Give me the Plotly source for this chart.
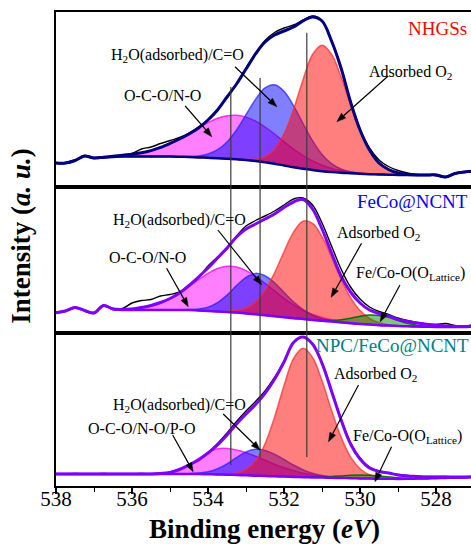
import math
import plotly.graph_objects as go
from plotly.subplots import make_subplots

# Binding energy grid (eV)
energy = [538.0, 537.75, 537.5, 537.25, 537.0, 536.75, 536.5, 536.25, 536.0, 535.75,
          535.5, 535.25, 535.0, 534.75, 534.5, 534.25, 534.0, 533.75, 533.5, 533.25,
          533.0, 532.75, 532.5, 532.25, 532.0, 531.75, 531.5, 531.25, 531.0, 530.75,
          530.5, 530.25, 530.0, 529.75, 529.5, 529.25, 529.0, 528.75, 528.5, 528.25,
          528.0, 527.75, 527.5, 527.25, 527.0]

# ---------------- NHGSs (top) ----------------
top_baseline = [23, 23, 25.5, 30, 28, 28.5, 29, 29.5, 29.5, 29.5,
                29.5, 29.5, 29.5, 29.3, 29, 28.6, 28.2, 27.8, 27.3, 26.7,
                26, 25, 23.8, 22.3, 20.5, 18.7, 17.2, 16, 14.8, 13.9,
                13.2, 12.7, 12.2, 11.8, 11.5, 11.3, 11.1, 11, 11, 11,
                11, 9, 12.5, 14, 15]
top_envelope = [23, 23, 25.5, 30, 28, 28.8, 29.7, 30.8, 31.7, 33.2,
                35.4, 38.6, 42.6, 47, 52, 58, 66, 76, 89, 102,
                117, 132, 144, 151, 155, 159, 165, 169, 165, 145,
                118, 84, 56, 36, 23, 16.5, 13, 11.5, 11, 11,
                11, 9, 12.5, 14, 15]
top_raw = [23, 23, 25.5, 30, 28, 28.5, 29.5, 30, 32.5, 37,
           39, 42.5, 45.5, 48.5, 53, 59, 66.5, 76.5, 89, 102,
           117.5, 133, 145.5, 153.5, 158, 161, 166, 170, 165.5, 146,
           119, 85, 57, 38, 26, 19.5, 15.5, 13, 11.5, 11,
           10.5, 9, 12.5, 14, 15]
top_magenta = [0] * 5 + [0.3, 0.7, 1.3, 2.2, 3.7, 5.9, 9.1, 13.1, 18.1, 23.7,
                         29.7, 35.2, 39.9, 42.9, 44, 42.9, 39.9, 35.2, 29.7, 23.7,
                         18.1, 13.1, 9.1, 5.9, 3.7, 2.2, 1.3, 0.7, 0.3] + [0] * 11
top_blue = [0] * 14 + [0.5, 1.5, 3.8, 8.5, 16.7, 29.3, 45.3, 61.6, 74.3, 79,
                       74.3, 61.6, 45.3, 29.3, 16.7, 8.5, 3.8, 1.5, 0.5] + [0] * 12
top_red = [0] * 20 + [0.5, 1.8, 5.5, 14.4, 31.4, 57.7, 89.1, 115.5, 126, 117.8,
                      96.1, 68.5, 42.7, 23.3, 11.1, 4.7, 1.6, 0.5] + [0] * 7

# ---------------- FeCo@NCNT (middle) ----------------
mid_baseline = [20.3, 22, 25.5, 22.5, 20, 27.5, 24, 23, 23, 23,
                23, 23, 23, 23, 23, 22.5, 22, 21.5, 21, 20.5,
                19.5, 18.7, 17.8, 16.8, 15.8, 14.8, 14, 13, 12.2, 11.4,
                10.6, 9.8, 9, 8.4, 7.8, 7.4, 7, 6.7, 6.4, 6.2,
                6, 6, 6, 6, 7]
mid_envelope = [20.3, 22, 25.5, 22.5, 20, 27.5, 24, 23.5, 24, 25.5,
                27.5, 30.5, 34.5, 40, 47.5, 56, 65, 75, 85, 96,
                104, 109, 114, 119, 125.5, 131, 133.5, 124, 104, 80,
                57, 41, 30, 23, 19.5, 17, 13.5, 11.5, 10, 8.8,
                7.8, 7, 6.5, 6.5, 7]
mid_raw = [20.3, 22, 25.5, 22.5, 20, 27.5, 24, 24.5, 30, 32.5,
           33.5, 37, 38.5, 41, 47.5, 55, 67, 76, 84, 97,
           107, 112.5, 117, 122, 128, 134, 135, 128, 110, 87,
           64, 46, 34, 26, 21.5, 18.5, 15, 12.5, 10.5, 9,
           8.5, 9.5, 7.5, 6.5, 9]
mid_magenta = [0] * 7 + [0.5, 1.1, 2.1, 4.0, 6.9, 11.1, 16.8, 23.5, 30.8, 37.7,
                         43.0, 45.7, 45.5, 42.8, 38.0, 31.9, 25.3, 18.9, 13.4, 8.9,
                         5.6, 3.4, 1.9, 1.0, 0.5] + [0] * 13
mid_blue = [0] * 14 + [0.5, 1.5, 3.9, 8.9, 16.9, 26.9, 36.2, 40.9, 39.4, 33.3,
                       24.9, 16.3, 9.4, 4.8, 2.2, 0.9, 0.3] + [0] * 14
mid_red = [0] * 18 + [0.6, 2.0, 5.2, 12.2, 24.7, 43.2, 65.5, 86.0, 97.9, 96.7,
                      84.1, 64.4, 43.3, 25.6, 13.4, 6.1, 2.5, 0.9, 0.3] + [0] * 8
mid_green = [0] * 27 + [0.1, 0.4, 1.1, 2.6, 5.0, 7.7, 9.6, 9.8, 8.2, 5.5,
                        3.0, 1.4, 0.5, 0.15] + [0] * 4

# ---------------- NPC/FeCo@NCNT (bottom) ----------------
bot_baseline = [12] * 16 + [11.8, 11.6, 11.3, 11, 10.7, 10.3, 10, 9.7, 9.4, 9.1,
                            8.8, 8.6, 8.4, 8.2, 8, 7.8, 7.6, 7.4, 7.3, 7.2,
                            7.1, 7.2, 7.4, 7.6, 7.8, 8, 8.3, 8.6, 9]
bot_envelope = [12, 12, 12, 12, 12, 12, 12, 12, 12, 12,
                12, 12.5, 13.5, 16.5, 21, 26, 33, 41, 51, 62,
                72, 81.5, 92.7, 106.8, 124, 143.5, 149, 142, 122.7, 94.8,
                66.3, 42, 27, 18, 14.5, 13, 11, 10, 9.5, 9,
                9, 9, 9, 9, 9.3]
bot_raw = [12, 12, 12.5, 12, 12, 12.5, 12, 12, 12, 12.5,
           12, 12.5, 13.5, 16.5, 21, 26, 33.5, 42.5, 53, 64.5,
           75, 84.5, 95, 108.5, 125, 143.5, 149, 142.5, 123.5, 96,
           67.5, 43.5, 28, 19, 15, 13, 11.5, 10.5, 10, 9.5,
           9.5, 9.5, 9, 9, 9.3]
bot_magenta = [0] * 10 + [0.3, 0.9, 2.2, 5.0, 9.5, 15.5, 21.6, 25.7, 26.3, 25.1,
                          22.6, 19.4, 15.7, 12.1, 8.8, 6.1, 4.0, 2.5, 1.5, 0.8,
                          0.4] + [0] * 14
bot_blue = [0] * 14 + [0.3, 1.0, 2.5, 5.7, 10.9, 17.4, 23.4, 26.4, 25.6, 22.1,
                       17.1, 11.9, 7.4, 4.1, 2.0, 0.9, 0.4] + [0] * 14
bot_red = [0] * 18 + [0.5, 1.8, 5.7, 14.7, 32.1, 59.1, 91.2, 118.3, 129, 120.1,
                      96.8, 67.6, 40.9, 21.4, 9.7, 3.8, 1.3, 0.4] + [0] * 9
bot_green = [0] * 27 + [0.3, 0.7, 1.3, 2.1, 2.9, 3.4, 3.4, 2.8, 1.9, 1.1,
                        0.6, 0.2] + [0] * 6

# Peak-position guide lines (eV)
guide_lines = [533.4, 532.63, 531.4]

x_ticks = [538, 536, 534, 532, 530, 528]

# ---------------- layout constants ----------------
FONT = "Liberation Serif"
W, H = 471, 544
M_L, M_R, M_T, M_B = 56, 0, 12, 58
X_RANGE = [538, 527.08]
ROW_PX = [175, 146, 153]
Y_RANGES = [[-1, 174], [0, 146], [0, 153]]

comp_style = {
    "magenta": ("rgba(255,0,255,0.5)", "rgba(240,0,240,0.75)"),
    "blue": ("rgba(0,0,255,0.5)", "rgba(30,30,255,0.7)"),
    "red": ("rgba(255,0,0,0.5)", "rgba(255,40,40,0.7)"),
    "green": ("rgba(0,140,0,0.5)", "rgba(0,100,0,0.9)"),
}

panels = [
    dict(row=1, base=top_baseline, env=top_envelope, raw=top_raw, color="#000080",
         comps=[("magenta", top_magenta), ("blue", top_blue), ("red", top_red)]),
    dict(row=2, base=mid_baseline, env=mid_envelope, raw=mid_raw, color="#7F00FF",
         comps=[("magenta", mid_magenta), ("blue", mid_blue), ("red", mid_red), ("green", mid_green)]),
    dict(row=3, base=bot_baseline, env=bot_envelope, raw=bot_raw, color="#7F00FF",
         comps=[("magenta", bot_magenta), ("blue", bot_blue), ("red", bot_red), ("green", bot_green)]),
]

fig = make_subplots(rows=3, cols=1, shared_xaxes=True, vertical_spacing=0,
                    row_heights=ROW_PX)

for p in panels:
    r = p["row"]
    for name, vals in p["comps"]:
        fillc, linec = comp_style[name]
        top = [b + v for b, v in zip(p["base"], vals)]
        fig.add_trace(go.Scatter(x=energy, y=p["base"], mode="lines",
                                 line=dict(width=0, shape="spline"), hoverinfo="skip",
                                 showlegend=False), row=r, col=1)
        fig.add_trace(go.Scatter(x=energy, y=top, mode="lines", fill="tonexty",
                                 fillcolor=fillc, line=dict(color=linec, width=1.5, shape="spline"),
                                 showlegend=False), row=r, col=1)
    fig.add_trace(go.Scatter(x=energy, y=p["raw"], mode="lines",
                             line=dict(color="black", width=1.4, shape="spline"),
                             showlegend=False), row=r, col=1)
    fig.add_trace(go.Scatter(x=energy, y=p["env"], mode="lines",
                             line=dict(color=p["color"], width=3, shape="spline"),
                             showlegend=False), row=r, col=1)
    fig.add_trace(go.Scatter(x=energy, y=p["base"], mode="lines",
                             line=dict(color=p["color"], width=2.5, shape="spline"),
                             showlegend=False), row=r, col=1)

for i, yr in enumerate(Y_RANGES, start=1):
    fig.update_yaxes(range=yr, showline=True, linecolor="black", linewidth=1.5, mirror=False,
                     showgrid=False, zeroline=False, showticklabels=False, ticks="",
                     row=i, col=1)
    fig.update_xaxes(range=X_RANGE, showline=True, linecolor="black", linewidth=1.5,
                     mirror=True, showgrid=False, zeroline=False, row=i, col=1)
for i in (1, 2):
    fig.update_xaxes(showticklabels=False, ticks="", row=i, col=1)
fig.update_xaxes(row=3, col=1, showticklabels=True, ticks="outside", ticklen=6, tickwidth=1.5,
                 tickcolor="black", tickmode="array", tickvals=x_ticks,
                 ticktext=[str(t) for t in x_ticks], ticklabelstandoff=-13,
                 tickfont=dict(family=FONT, size=21, color="black"),
                 minor=dict(dtick=1, tick0=528, ticks="outside", ticklen=4, tickwidth=1.2,
                            tickcolor="black", showgrid=False))

# guide lines spanning the panels
line_top = [0.842, 0.861, 0.956]
line_bottom = [0.044, 0.061, 0.061]
shapes = []
for e, y1, y0 in zip(guide_lines, line_top, line_bottom):
    shapes.append(dict(type="line", xref="x", yref="paper", x0=e, x1=e, y0=y0, y1=y1,
                       line=dict(color="#3a3a3a", width=1.2), layer="above"))

# pixel scales used to draw arrow heads with a fixed pixel size
PX_PER_EV = (W - M_L - M_R) / (X_RANGE[0] - X_RANGE[1])
PX_PER_UNIT = [h / (yr[1] - yr[0]) for h, yr in zip(ROW_PX, Y_RANGES)]
HEAD_LEN, HEAD_HALF = 9.0, 3.2
AXES = {1: ("x", "y"), 2: ("x2", "y2"), 3: ("x3", "y3")}


def arrow(tail, head, row):
    xr, yr = AXES[row]
    ppu = PX_PER_UNIT[row - 1]
    # pixel-space vector (x grows as energy decreases; y grows upward)
    dx = (tail[0] - head[0]) * PX_PER_EV
    dy = (head[1] - tail[1]) * ppu
    L = math.hypot(dx, dy)
    ux, uy = dx / L, dy / L
    nx, ny = -uy, ux

    def to_data(ox, oy):
        return head[0] - ox / PX_PER_EV, head[1] + oy / ppu

    bx, by = -HEAD_LEN * ux, -HEAD_LEN * uy
    base = to_data(bx, by)
    c1 = to_data(bx + HEAD_HALF * nx, by + HEAD_HALF * ny)
    c2 = to_data(bx - HEAD_HALF * nx, by - HEAD_HALF * ny)
    shapes.append(dict(type="line", xref=xr, yref=yr, x0=tail[0], y0=tail[1],
                       x1=base[0], y1=base[1], line=dict(color="black", width=1.2)))
    shapes.append(dict(type="path", xref=xr, yref=yr,
                       path=f"M {head[0]},{head[1]} L {c1[0]},{c1[1]} L {c2[0]},{c2[1]} Z",
                       fillcolor="black", line=dict(color="black", width=0.5)))


annotations = []


def label(x, y, text, row, size=16, color="black"):
    xr, yr = AXES[row]
    annotations.append(dict(x=x, y=y, xref=xr, yref=yr, text=text, showarrow=False,
                            font=dict(family=FONT, size=size, color=color),
                            xanchor="center", yanchor="middle"))


H2O = "H<sub>2</sub>O(adsorbed)/C=O"
ADS = "Adsorbed O<sub>2</sub>"
LAT = "Fe/Co-O(O<sub>Lattice</sub>)"

# top panel
label(527.97, 158, "NHGSs", 1, size=19, color="#FF0000")
label(528.66, 114, ADS, 1)
arrow((529.26, 110), (530.61, 64.3), 1)
label(534.79, 131, H2O, 1)
arrow((533.29, 119.3), (532.19, 79.3), 1)
label(535.2, 91, "O-C-O/N-O", 1)
arrow((534.6, 80), (533.9, 49.3), 1)

# middle panel
label(528.63, 132, "FeCo@NCNT", 2, size=19, color="#0000FF")
label(529.51, 100, ADS, 2)
arrow((529.96, 89.7), (530.76, 35.7), 2)
label(528.66, 60, LAT, 2)
arrow((528.95, 48), (529.47, 11.3), 2)
label(534.76, 113, H2O, 2)
arrow((533.74, 103), (532.59, 48.3), 2)
label(535.58, 76, "O-C-O/N-O", 2)
arrow((535.09, 64.7), (534.52, 26.3), 2)

# bottom panel
label(529.14, 141, "NPC/FeCo@NCNT", 3, size=19, color="#008080")
label(529.58, 112, ADS, 3)
arrow((530.04, 101), (530.83, 44.3), 3)
label(528.75, 50, LAT, 3)
arrow((529.17, 39.3), (529.61, 4.3), 3)
label(534.76, 81, H2O, 3)
arrow((533.6, 72), (532.63, 36), 3)
label(535.75, 58, "O-C-O/N-O/P-O", 3)
arrow((534.93, 51), (534.39, 14.3), 3)

# axis titles
annotations.append(dict(x=-0.083, y=0.527, xref="paper", yref="paper",
                        text="<b>Intensity (<i>a. u.</i>)</b>", textangle=-90, showarrow=False,
                        font=dict(family=FONT, size=27, color="black"),
                        xanchor="center", yanchor="middle"))
annotations.append(dict(x=0.5036, y=-0.0907, xref="paper", yref="paper",
                        text="<b>Binding energy (<i>eV</i>)</b>", showarrow=False,
                        font=dict(family=FONT, size=27, color="black"),
                        xanchor="center", yanchor="middle"))

fig.update_layout(width=W, height=H, margin=dict(l=M_L, r=M_R, t=M_T, b=M_B),
                  template="none", plot_bgcolor="white", paper_bgcolor="white",
                  showlegend=False, shapes=shapes, annotations=annotations,
                  font=dict(family=FONT, color="black"))

fig.write_html("out.html")
